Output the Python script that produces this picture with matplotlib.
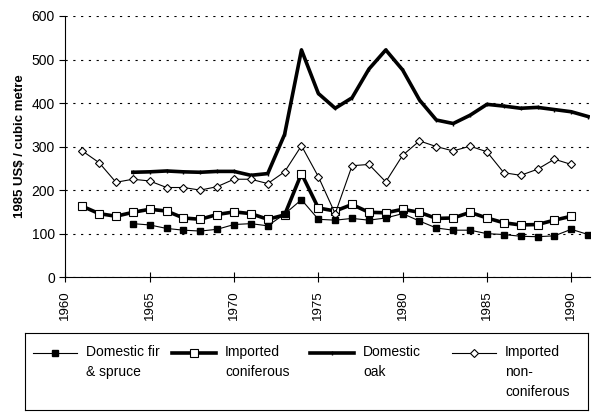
import numpy as np
import matplotlib
matplotlib.use("Agg")
import matplotlib.pyplot as plt
from matplotlib.lines import Line2D

# =============================================================================
# Wood prices, 1985 US$ per cubic metre
# =============================================================================
fir_years = list(range(1964, 1992))
fir_spruce = [123, 120, 112, 108, 106, 110, 121, 123, 118, 145, 178, 133, 131, 135,
              131, 136, 146, 129, 113, 108, 108, 100, 98, 94, 93, 95, 110, 98]

imp_con_years = list(range(1961, 1991))
imp_coniferous = [163, 146, 140, 149, 156, 152, 136, 133, 144, 150, 146, 133, 143, 238,
                  159, 152, 167, 149, 148, 156, 149, 135, 136, 149, 136, 125, 120, 121,
                  131, 140]

oak_years = list(range(1964, 1992))
domestic_oak = [241, 242, 244, 242, 241, 243, 243, 234, 238, 328, 522, 422, 388, 412,
                478, 522, 476, 407, 361, 353, 372, 397, 393, 388, 390, 385, 380, 369]

imp_noncon_years = list(range(1961, 1991))
imp_nonconiferous = [290, 263, 218, 225, 221, 206, 206, 200, 208, 225, 225, 215, 242, 302,
                     231, 146, 256, 259, 219, 280, 313, 300, 290, 301, 288, 240, 234, 248,
                     271, 259]

labels = ["Domestic fir\n& spruce", "Imported\nconiferous", "Domestic\noak",
          "Imported\nnon-\nconiferous"]

plt.rcParams['font.family'] = ['Liberation Sans', 'DejaVu Sans']

fig = plt.figure(figsize=(6, 4.2), dpi=100)
ax = fig.add_axes([0.109, 0.340, 0.874, 0.622])

# line width, marker style per series
lines_st = [
    dict(lw=0.8),
    dict(lw=2.6),
    dict(lw=2.6),
    dict(lw=0.8),
]
marks_st = [
    dict(marker='s', ms=4, mfc='black', mec='black'),
    dict(marker='s', ms=5.5, mfc='white', mec='black', mew=0.8),
    dict(marker='|', ms=3, mec='black'),
    dict(marker='D', ms=4, mfc='white', mec='black', mew=0.8),
]

series = [(fir_years, fir_spruce), (imp_con_years, imp_coniferous),
          (oak_years, domestic_oak), (imp_noncon_years, imp_nonconiferous)]
zorders = [4, 3, 3, 3]
for (x, y), ls, ms, z in zip(series, lines_st, marks_st, zorders):
    ax.plot(x, y, color='black', **ls, **ms, zorder=z)

ax.set_xlim(1960, 1991.1)
ax.set_ylim(0, 600)
ax.set_xticks(range(1960, 1991, 5))
ax.set_yticks(range(0, 601, 100))
ax.tick_params(axis='x', direction='inout', length=7, width=0.8, labelrotation=90,
               labelsize=9.5, pad=6)
ax.tick_params(axis='y', direction='out', length=4, width=0.8, labelsize=10)
ax.set_ylabel('1985 US$ / cubic metre', fontweight='bold', fontsize=9.5, labelpad=4)
ax.grid(axis='y', linestyle=(0, (2, 5)), color='black', lw=0.8)
ax.set_axisbelow(True)
for s in ['top', 'right']:
    ax.spines[s].set_visible(False)
for s in ['left', 'bottom']:
    ax.spines[s].set_linewidth(0.8)

# legend box drawn by hand so the handles sit on the first text line
lax = fig.add_axes([25 / 600, 1 - 410 / 420, 563 / 600, 77 / 420])
lax.set_xlim(0, 563)
lax.set_ylim(77, 0)
lax.set_xticks([])
lax.set_yticks([])
for s in lax.spines.values():
    s.set_linewidth(0.8)
hx = [8, 147, 285, 427]
for x0, ls, ms, lab in zip(hx, lines_st, marks_st, labels):
    lax.add_line(Line2D([x0, x0 + 44], [20, 20], color='black', **ls))
    lax.add_line(Line2D([x0 + 22], [20], lw=0, **ms))
    lax.text(x0 + 53, 12, lab, va='top', ha='left', fontsize=10, linespacing=1.55)

fig.savefig('out.png', dpi=100)
